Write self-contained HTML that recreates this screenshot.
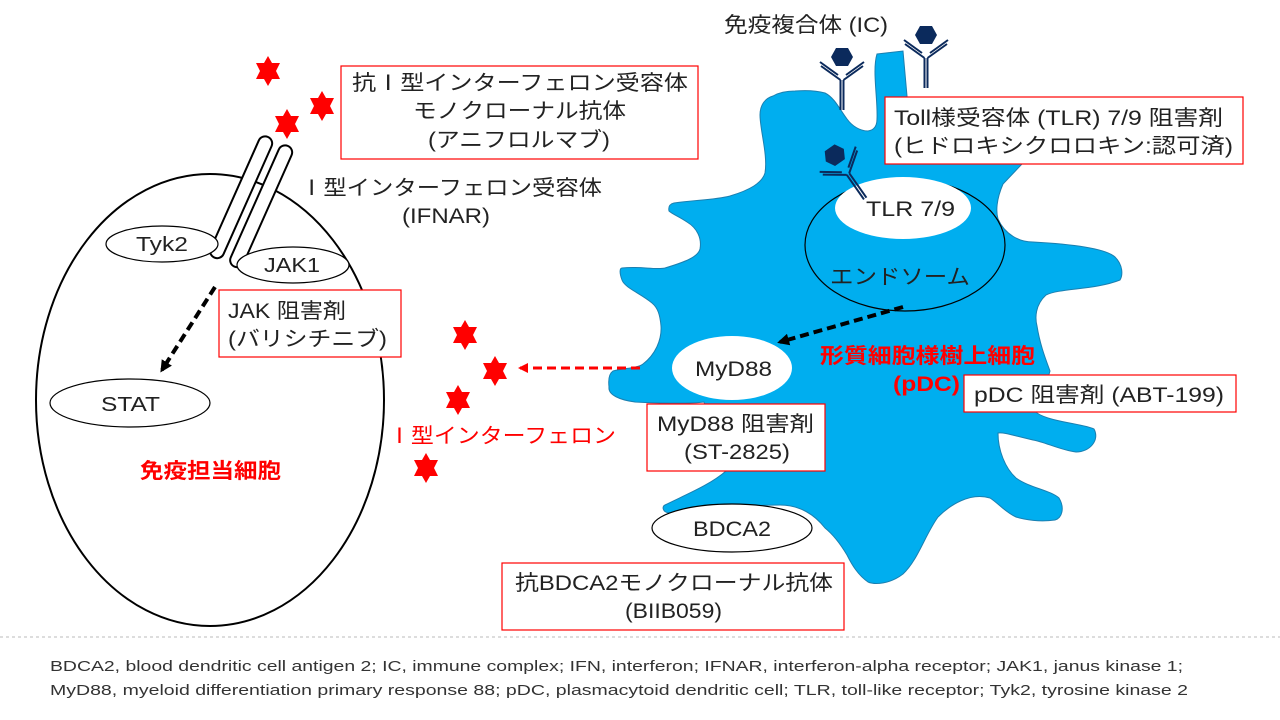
<!DOCTYPE html>
<html><head><meta charset="utf-8"><style>
html,body{margin:0;padding:0;background:#fff;}
svg{display:block;font-family:"Liberation Sans","Noto Sans CJK JP",sans-serif;}
</style></head><body>
<svg width="1280" height="720" viewBox="0 0 1280 720" xmlns="http://www.w3.org/2000/svg">
<defs>
<g id="ab">
<polygon points="-11,-23 -6,-32 6,-32 11,-23 6,-14 -6,-14" fill="#0b2a5c"/>
<g stroke="#0b2a5c" stroke-width="2" fill="none">
<line x1="-1.5" y1="0" x2="-1.5" y2="30"/><line x1="1.5" y1="0" x2="1.5" y2="30"/>
<line x1="-1.5" y1="0" x2="-21" y2="-14"/><line x1="-4" y1="-5" x2="-22" y2="-18"/>
<line x1="1.5" y1="0" x2="21" y2="-14"/><line x1="4" y1="-5" x2="22" y2="-18"/>
</g></g>
<polygon id="st" points="0,-15 4,-8 12,-8 8,0 12,8 4,8 0,15 -4,8 -12,8 -8,0 -12,-8 -4,-8" fill="#ff0000"/>
<marker id="ak" markerWidth="12" markerHeight="12" refX="9" refY="6" orient="auto" markerUnits="userSpaceOnUse"><path d="M0,0 L12,6 L0,12 z" fill="#000"/></marker>
<marker id="ar" markerWidth="10" markerHeight="10" refX="8" refY="5" orient="auto" markerUnits="userSpaceOnUse"><path d="M0,0 L10,5 L0,10 z" fill="#ff0000"/></marker>
</defs>

<ellipse cx="210" cy="400" rx="174" ry="226" fill="#fff" stroke="#000" stroke-width="2"/>

<path d="M877,54 L903,51 L907,96 L910,130 L1022,164 L1003,184 C996,200 996,212 998,219 C1005,235 1020,242 1033,242 C1070,244 1105,248 1115,257 C1123,265 1123,275 1120,280 C1095,290 1060,288 1046,295 C1035,305 1035,318 1037,326 C1040,345 1046,360 1050,371 C1045,390 1035,405 1037,413 C1050,422 1085,424 1094,429 C1100,440 1090,452 1076,452 C1060,450 1045,442 1033,440 C1015,436 1004,432 998,433 C998,450 1005,468 1016,478 C1030,488 1050,490 1059,498 C1065,508 1062,518 1055,520 C1040,522 1025,520 1016,517 C1005,512 998,503 990,498 C970,492 950,505 938,517 C925,535 918,560 903,574 C890,584 875,585 868,582 C858,575 852,565 847,555 C838,540 830,532 825,528 C815,515 800,505 780,505 C740,505 700,512 669,513 C662,512 662,506 665,505 C685,495 710,485 726,471 L704,402 C690,404 650,403 635,402 C620,400 608,395 609,387 C608,378 610,373 613,371 C625,368 638,368 643,364 C655,355 662,340 661,326 C660,315 658,308 652,303 C640,293 625,288 622,280 C619,272 620,268 622,268 C640,266 655,270 665,268 C685,262 698,257 700,249 C702,238 697,228 687,222 C680,217 672,214 669,211 C668,206 670,204 674,203 C695,200 715,200 730,196 C750,190 762,183 765,173 C768,155 760,130 760,115 C760,104 766,98 773,96 C780,92 788,91 795,91 C808,90 818,91 825,93 C835,98 840,110 847,119 C852,126 860,131 868,131 C875,130 877,125 877,119 C878,100 872,70 877,54 Z" fill="#00aeef" stroke="#1a7fb0" stroke-width="1"/>

<ellipse cx="905" cy="245" rx="100" ry="66" fill="none" stroke="#000" stroke-width="1.2"/>
<ellipse cx="903" cy="208" rx="68" ry="31" fill="#fff"/>
<g font-size="21" fill="#222">
<text x="866" y="216" textLength="89" lengthAdjust="spacingAndGlyphs">TLR 7/9</text>
<text x="830" y="284" textLength="140" lengthAdjust="spacingAndGlyphs">エンドソーム</text>
</g>
<ellipse cx="732" cy="368" rx="60" ry="32" fill="#fff"/>
<ellipse cx="732" cy="528" rx="80" ry="24" fill="#fff" stroke="#000" stroke-width="1.2"/>
<g font-size="21" fill="#222">
<text x="695" y="376" textLength="77" lengthAdjust="spacingAndGlyphs">MyD88</text>
<text x="693" y="536" textLength="78" lengthAdjust="spacingAndGlyphs">BDCA2</text>
</g>

<use href="#ab" transform="translate(842,80)"/>
<use href="#ab" transform="translate(926,58)"/>
<use href="#ab" transform="translate(848,174) rotate(-35)"/>

<g fill="#fff" stroke="#000" stroke-width="2">
<rect x="-7" y="0" width="14" height="132" rx="7" transform="translate(268,137) rotate(24)"/>
<rect x="-7" y="0" width="14" height="132" rx="7" transform="translate(288,146) rotate(24)"/>
</g>
<ellipse cx="162" cy="244" rx="56" ry="18" fill="#fff" stroke="#000" stroke-width="1.2"/>
<ellipse cx="293" cy="265" rx="56" ry="18" fill="#fff" stroke="#000" stroke-width="1.2"/>
<ellipse cx="130" cy="403" rx="80" ry="24" fill="#fff" stroke="#000" stroke-width="1.2"/>
<g font-size="20" fill="#222">
<text x="136" y="251" textLength="52" lengthAdjust="spacingAndGlyphs">Tyk2</text>
<text x="264" y="272" textLength="56" lengthAdjust="spacingAndGlyphs">JAK1</text>
<text x="101" y="411" textLength="59" lengthAdjust="spacingAndGlyphs">STAT</text>
</g>

<line x1="215" y1="287" x2="162" y2="370" stroke="#000" stroke-width="4" stroke-dasharray="9,5" marker-end="url(#ak)"/>
<line x1="903" y1="307" x2="780" y2="342" stroke="#000" stroke-width="4" stroke-dasharray="9,5" marker-end="url(#ak)"/>
<line x1="640" y1="368" x2="520" y2="368" stroke="#ff0000" stroke-width="3" stroke-dasharray="9,5" marker-end="url(#ar)"/>

<use href="#st" x="268" y="71"/><use href="#st" x="322" y="106"/><use href="#st" x="287" y="124"/>
<use href="#st" x="465" y="335"/><use href="#st" x="495" y="371"/><use href="#st" x="458" y="400"/><use href="#st" x="426" y="468"/>

<g fill="#fff" stroke="#ff0000" stroke-width="1.2">
<rect x="341" y="66" width="357" height="93"/>
<rect x="219" y="290" width="182" height="67"/>
<rect x="885" y="97" width="358" height="67"/>
<rect x="964" y="375" width="272" height="37"/>
<rect x="647" y="404" width="178" height="67"/>
<rect x="502" y="563" width="342" height="67"/>
</g>
<g font-size="21" fill="#222">
<text x="352" y="90" textLength="336" lengthAdjust="spacingAndGlyphs">抗Ⅰ型インターフェロン受容体</text>
<text x="413" y="118" textLength="213" lengthAdjust="spacingAndGlyphs">モノクローナル抗体</text>
<text x="428" y="147" textLength="182" lengthAdjust="spacingAndGlyphs">(アニフロルマブ)</text>
<text x="228" y="318" textLength="118" lengthAdjust="spacingAndGlyphs">JAK 阻害剤</text>
<text x="228" y="346" textLength="159" lengthAdjust="spacingAndGlyphs">(バリシチニブ)</text>
<text x="894" y="125" textLength="329" lengthAdjust="spacingAndGlyphs">Toll様受容体 (TLR) 7/9 阻害剤</text>
<text x="894" y="153" textLength="339" lengthAdjust="spacingAndGlyphs">(ヒドロキシクロロキン:認可済)</text>
<text x="974" y="402" textLength="250" lengthAdjust="spacingAndGlyphs">pDC 阻害剤 (ABT-199)</text>
<text x="657" y="431" textLength="157" lengthAdjust="spacingAndGlyphs">MyD88 阻害剤</text>
<text x="684" y="459" textLength="106" lengthAdjust="spacingAndGlyphs">(ST-2825)</text>
<text x="515" y="590" textLength="318" lengthAdjust="spacingAndGlyphs">抗BDCA2モノクローナル抗体</text>
<text x="625" y="618" textLength="97" lengthAdjust="spacingAndGlyphs">(BIIB059)</text>
<text x="724" y="32" textLength="164" lengthAdjust="spacingAndGlyphs">免疫複合体 (IC)</text>
<text x="300" y="195" textLength="302" lengthAdjust="spacingAndGlyphs">Ⅰ型インターフェロン受容体</text>
<text x="402" y="223" textLength="88" lengthAdjust="spacingAndGlyphs">(IFNAR)</text>
</g>
<text x="388" y="443" font-size="21" fill="#ff0000" textLength="228" lengthAdjust="spacingAndGlyphs">Ⅰ型インターフェロン</text>
<text x="140" y="478" font-size="21" font-weight="bold" fill="#ff0000" textLength="141" lengthAdjust="spacingAndGlyphs">免疫担当細胞</text>
<text x="820" y="363" font-size="21" font-weight="bold" fill="#ff0000" textLength="215" lengthAdjust="spacingAndGlyphs">形質細胞様樹上細胞</text>
<text x="893" y="391" font-size="21" font-weight="bold" fill="#ff0000" textLength="67" lengthAdjust="spacingAndGlyphs">(pDC)</text>

<line x1="0" y1="637" x2="1280" y2="637" stroke="#bbb" stroke-width="1" stroke-dasharray="3,3"/>
<g font-size="15" fill="#333">
<text x="50" y="671" textLength="1133" lengthAdjust="spacingAndGlyphs">BDCA2, blood dendritic cell antigen 2; IC, immune complex; IFN, interferon; IFNAR, interferon-alpha receptor; JAK1, janus kinase 1;</text>
<text x="50" y="695" textLength="1138" lengthAdjust="spacingAndGlyphs">MyD88, myeloid differentiation primary response 88; pDC, plasmacytoid dendritic cell; TLR, toll-like receptor; Tyk2, tyrosine kinase 2</text>
</g>
</svg>
</body></html>
